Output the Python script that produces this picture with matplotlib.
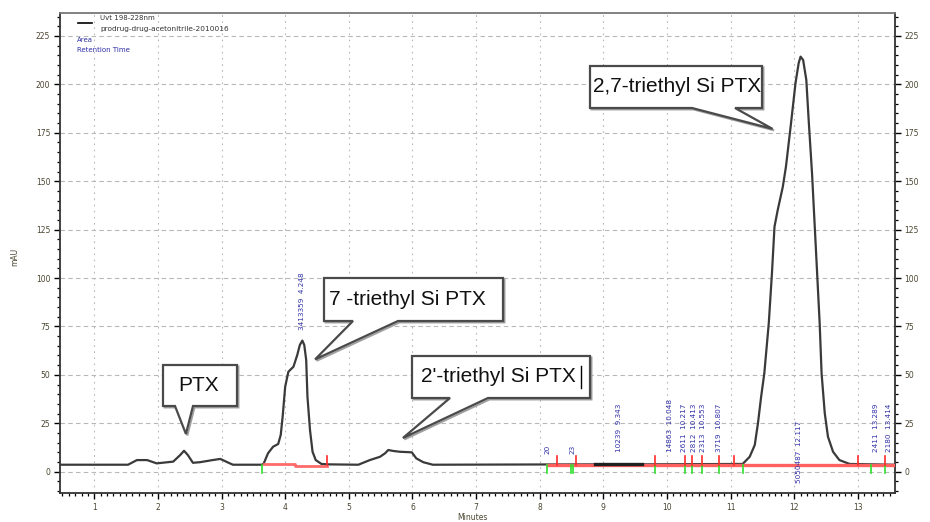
import matplotlib
matplotlib.use("Agg")
from matplotlib import pyplot as plt
from matplotlib.patches import Polygon
from matplotlib.lines import Line2D
from matplotlib.transforms import IdentityTransform
from matplotlib.ticker import MultipleLocator

# chromatogram trace, retention time (min) vs absorbance (mAU)
time_min = [0.46, 1.53, 1.67, 1.83, 1.98, 2.24, 2.35, 2.41, 2.47, 2.55, 2.66, 2.86, 2.98, 3.13, 3.18, 3.63,
            3.66, 3.73, 3.81, 3.89, 3.93, 3.96, 4.00, 4.05, 4.13, 4.19, 4.23, 4.27, 4.30, 4.33, 4.35, 4.39,
            4.43, 4.48, 4.57, 4.66,
            5.15, 5.33, 5.49, 5.57, 5.62, 5.70, 5.80, 5.99, 6.06, 6.17, 6.32,
            8.87, 9.60,
            11.19, 11.30, 11.38, 11.43, 11.48, 11.53, 11.60, 11.65, 11.69, 11.74, 11.82, 11.87, 11.95, 12.02,
            12.07, 12.10, 12.14, 12.19, 12.23, 12.28, 12.32, 12.36, 12.40, 12.43, 12.48, 12.53, 12.61, 12.71,
            12.87, 13.58]
mau = [3.6, 3.6, 6.0, 6.0, 4.3, 5.2, 8.6, 10.8, 8.6, 4.6, 4.9, 6.0, 6.6, 4.3, 3.6, 3.6,
       4.0, 9.5, 12.9, 14.3, 19.0, 28.4, 43.9, 51.6, 54.2, 60.3, 65.4, 67.7, 65.4, 57.7, 38.7, 21.5,
       10.3, 6.0, 4.0, 3.8,
       3.6, 6.0, 7.7, 9.5, 11.2, 10.7, 10.3, 10.0, 6.9, 4.9, 3.6,
       3.8, 3.8,
       4.0, 7.7, 13.8, 25.0, 38.7, 50.8, 76.6, 102.5, 126.5, 135.0, 147.0, 157.5, 180.0, 200.6,
       211.0, 214.3, 212.6, 202.3, 180.0, 154.0, 128.3, 102.5, 76.6, 50.8, 30.2, 18.1, 10.3, 6.0,
       4.0, 3.6]

# integration start (green) and end (red) events
start_events = [3.63, 8.11, 8.49, 8.52, 9.81, 10.28, 10.39, 10.55, 10.81, 11.19, 13.20, 13.43]
end_events = [4.66, 8.27, 8.57, 9.81, 10.28, 10.39, 10.55, 10.81, 11.05, 13.01, 13.43]

# peak area / retention time labels
label_time = [4.26, 8.13, 8.51, 9.25, 10.05, 10.27, 10.42, 10.56, 10.82, 12.07, 13.29, 13.49]
label_text = ["3413359  4.248", "20", "23", "10239  9.343", "14863  10.048", "2611  10.217",
              "2812  10.413", "2313  10.553", "3719  10.807", "5050487  12.117", "2411  13.289",
              "2180  13.414"]
label_base = [73, 9, 9, 10, 10, 10, 10, 10, 10, -6, 10, 10]

W, H = 930, 522
fig = plt.figure(figsize=(W / 100, H / 100), dpi=100)
ax = fig.add_axes([60 / W, (H - 493) / H, (894.5 - 60) / W, (493 - 12.7) / H])
ax.set_xlim(0.461, 13.576)
ax.set_ylim(-11, 237)

tick_col = "#4a4530"
ax.xaxis.set_major_locator(MultipleLocator(1))
ax.xaxis.set_minor_locator(MultipleLocator(0.1))
ax.yaxis.set_major_locator(MultipleLocator(25))
ax.yaxis.set_minor_locator(MultipleLocator(5))
ax.set_xticks(range(1, 14))
ax.yaxis.set_ticks_position("both")
ax.tick_params(axis="y", which="both", labelright=True, direction="out")
ax.tick_params(which="major", length=4, width=1, labelsize=5.5, labelcolor=tick_col, pad=3)
ax.tick_params(which="minor", length=2.5, width=0.9)
ax.tick_params(axis="x", which="both", top=False)
for s in ax.spines.values():
    s.set_linewidth(1.3)
    s.set_color("#333333")
ax.spines["top"].set_color("#777777")

ax.yaxis.grid(True, ls=(0, (4, 3)), color="#b8b8b8", lw=0.8)
ax.xaxis.grid(True, ls=(0, (1.5, 4)), color="#b8b8b8", lw=0.8)
ax.set_axisbelow(True)

ax.plot(time_min, mau, color="#3a3a3a", lw=1.6, zorder=3)

# baselines drawn by the integrator
ax.plot([8.10, 13.576], [3.6, 3.6], color="#ff6060", lw=2.4, zorder=4, solid_capstyle="butt")
ax.plot([3.66, 4.16, 4.16, 4.66], [4.2, 4.2, 3.0, 3.0], color="#ff6b6b", lw=2.0, zorder=4)
ax.plot([8.87, 9.60], [3.9, 3.9], color="#202020", lw=2.4, zorder=5)

for t in start_events:
    ax.plot([t, t], [3.6, -0.6], color="#2ee02e", lw=1.2, zorder=5)
for t in end_events:
    ax.plot([t, t], [3.6, 8.2], color="#ff2a2a", lw=1.2, zorder=5)

for t, txt, b in zip(label_time, label_text, label_base):
    ax.text(t, b, txt, rotation=90, ha="center", va="bottom", fontsize=5.2,
            color="#3030a8", zorder=6)


def fx(x):
    return x / W


def fy(y):
    return 1 - y / H


# header block
fig.add_artist(Line2D([fx(78), fx(92)], [fy(23), fy(23)], color="black", lw=1.2))
fig.text(fx(100), fy(17.5), "Uvt 198-228nm", fontsize=5, color="#333333", va="center")
fig.text(fx(100), fy(29), "prodrug-drug-acetonitrile-2010016", fontsize=5.3, color="#333333", va="center")
fig.text(fx(77), fy(40), "Area", fontsize=5, color="#3030a8", va="center")
fig.text(fx(77), fy(50), "Retention Time", fontsize=5, color="#3030a8", va="center")

fig.text(fx(15), fy(257), "mAU", rotation=90, fontsize=5.5, color=tick_col, ha="center", va="center")
fig.text(fx(472), fy(518), "Minutes", fontsize=5.5, color=tick_col, ha="center", va="center")


def callout(box, base, tip, text, text_x):
    x0, y0, x1, y1 = box
    tx, ty = ax.transData.transform(tip)
    pts = [(x0, H - y0), (x1, H - y0), (x1, H - y1), (base[1], H - y1), (tx, ty),
           (base[0], H - y1), (x0, H - y1)]
    shadow = Polygon([(px + 1.5, py - 1.5) for px, py in pts], closed=True, transform=IdentityTransform(),
                     facecolor="none", edgecolor="#a0a0a0", lw=1.4, zorder=7)
    body = Polygon(pts, closed=True, transform=IdentityTransform(), facecolor="white",
                   edgecolor="#4a4a4a", lw=1.6, zorder=8)
    fig.add_artist(shadow)
    fig.add_artist(body)
    fig.text(fx(text_x), fy((y0 + y1) / 2), text, fontsize=15, family="Liberation Sans",
             color="#111111", va="center", ha="left", zorder=9)


callout((163, 365, 237, 406), (175, 193), (2.44, 19.5), "PTX", 178)
callout((324, 278, 503, 321), (353, 398), (4.47, 58), "7 -triethyl Si PTX", 329)
callout((412, 356, 590, 398), (450, 488), (5.85, 17.4), "2'-triethyl Si PTX", 421)
callout((590, 66, 762, 108), (692, 735), (11.66, 177), "2,7-triethyl Si PTX", 593)
fig.add_artist(Line2D([fx(581), fx(581)], [fy(366), fy(388)], color="black", lw=1.0, zorder=9))

fig.savefig("out.png", dpi=100)
